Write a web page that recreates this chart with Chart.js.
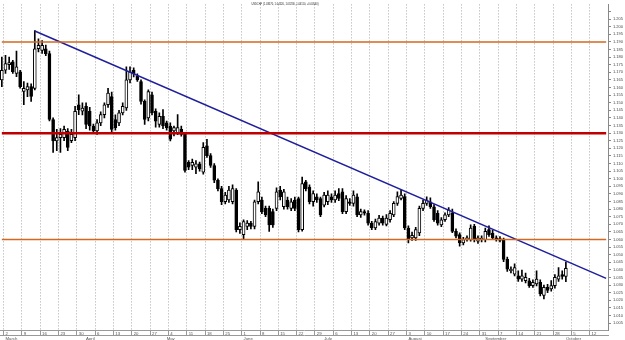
<!DOCTYPE html>
<html>
<head>
<meta charset="utf-8">
<script src="https://cdn.jsdelivr.net/npm/chart.js@4.4.1/dist/chart.umd.min.js"></script>
<style>
html, body { margin: 0; padding: 0; background: #fff; }
#wrap { width: 625px; height: 340px; position: relative; }
</style>
</head>
<body>
<div id="wrap"><canvas id="canvas"></canvas></div>
<script>
const titleText = 'USDCHF (1.03570, 1.04520, 1.03230, 1.04110, +0.00540)';
const firstDay = '2009-02-27';
const lastDay = '2009-10-16';
const monthNames = ['January', 'February', 'March', 'April', 'May', 'June', 'July',
    'August', 'September', 'October', 'November', 'December'];

// daily candles, one per trading day from firstDay
const opens = [
    1.1650, 1.1714, 1.1750, 1.1769, 1.1693, 1.1704, 1.1574, 1.1585, 1.1606, 1.1595,
    1.1855, 1.1844, 1.1855, 1.1823, 1.1390, 1.1249, 1.1271, 1.1271, 1.1314, 1.1250,
    1.1271, 1.1487, 1.1444, 1.1476, 1.1444, 1.1347, 1.1314, 1.1368, 1.1422, 1.1487,
    1.1541, 1.1390, 1.1368, 1.1433, 1.1466, 1.1650, 1.1713, 1.1676, 1.1640, 1.1509,
    1.1401, 1.1552, 1.1444, 1.1357, 1.1411, 1.1368, 1.1347, 1.1314, 1.1303, 1.1325,
    1.1292, 1.1108, 1.1087, 1.1076, 1.1098, 1.1044, 1.1217, 1.1152, 1.1087, 1.0990,
    1.0935, 1.0849, 1.0860, 1.0849, 1.0925, 1.0665, 1.0632, 1.0687, 1.0708, 1.0687,
    1.0849, 1.0860, 1.0805, 1.0805, 1.0784, 1.0805, 1.0925, 1.0816, 1.0860, 1.0805,
    1.0860, 1.0870, 1.0665, 1.0979, 1.0946, 1.0849, 1.0881, 1.0870, 1.0827, 1.0849,
    1.0881, 1.0860, 1.0903, 1.0914, 1.0784, 1.0849, 1.0838, 1.0881, 1.0762, 1.0784,
    1.0773, 1.0708, 1.0676, 1.0708, 1.0741, 1.0700, 1.0730, 1.0762, 1.0838, 1.0870,
    1.0882, 1.0676, 1.0611, 1.0611, 1.0643, 1.0805, 1.0838, 1.0849, 1.0816, 1.0773,
    1.0697, 1.0730, 1.0762, 1.0773, 1.0654, 1.0632, 1.0578, 1.0600, 1.0600, 1.0687,
    1.0589, 1.0600, 1.0600, 1.0665, 1.0643, 1.0611, 1.0606, 1.0600, 1.0470, 1.0395,
    1.0373, 1.0362, 1.0340, 1.0329, 1.0329, 1.0297, 1.0308, 1.0318, 1.0232, 1.0286,
    1.0275, 1.0297, 1.0340, 1.0370, 1.0357
];
const highs = [
    1.1801, 1.1812, 1.1800, 1.1779, 1.1840, 1.1714, 1.1639, 1.1630, 1.1625, 1.1974,
    1.1920, 1.1909, 1.1880, 1.1840, 1.1400, 1.1325, 1.1330, 1.1347, 1.1330, 1.1325,
    1.1476, 1.1552, 1.1500, 1.1500, 1.1470, 1.1360, 1.1390, 1.1440, 1.1500, 1.1595,
    1.1570, 1.1420, 1.1450, 1.1500, 1.1736, 1.1736, 1.1730, 1.1690, 1.1650, 1.1520,
    1.1585, 1.1570, 1.1460, 1.1433, 1.1455, 1.1380, 1.1368, 1.1347, 1.1422, 1.1347,
    1.1300, 1.1120, 1.1130, 1.1119, 1.1110, 1.1238, 1.1260, 1.1165, 1.1100, 1.1000,
    1.0950, 1.0910, 1.0950, 1.0960, 1.0935, 1.0710, 1.0730, 1.0725, 1.0720, 1.0860,
    1.0979, 1.0880, 1.0820, 1.0820, 1.0800, 1.0940, 1.0950, 1.0930, 1.0880, 1.0870,
    1.0880, 1.0880, 1.1011, 1.0990, 1.0960, 1.0920, 1.0900, 1.0880, 1.0910, 1.0920,
    1.0900, 1.0920, 1.0935, 1.0935, 1.0890, 1.0870, 1.0920, 1.0900, 1.0800, 1.0795,
    1.0790, 1.0720, 1.0735, 1.0760, 1.0755, 1.0765, 1.0790, 1.0850, 1.0914, 1.0925,
    1.0900, 1.0690, 1.0650, 1.0680, 1.0820, 1.0860, 1.0881, 1.0875, 1.0830, 1.0790,
    1.0745, 1.0775, 1.0810, 1.0800, 1.0670, 1.0645, 1.0615, 1.0625, 1.0697, 1.0700,
    1.0625, 1.0625, 1.0676, 1.0690, 1.0660, 1.0625, 1.0620, 1.0610, 1.0485, 1.0420,
    1.0440, 1.0395, 1.0400, 1.0380, 1.0345, 1.0335, 1.0394, 1.0335, 1.0300, 1.0305,
    1.0330, 1.0370, 1.0416, 1.0395, 1.0452
];
const lows = [
    1.1606, 1.1693, 1.1720, 1.1693, 1.1671, 1.1596, 1.1487, 1.1540, 1.1509, 1.1585,
    1.1834, 1.1825, 1.1810, 1.1380, 1.1173, 1.1184, 1.1173, 1.1250, 1.1184, 1.1238,
    1.1250, 1.1422, 1.1420, 1.1330, 1.1320, 1.1303, 1.1292, 1.1350, 1.1400, 1.1470,
    1.1310, 1.1320, 1.1350, 1.1420, 1.1450, 1.1630, 1.1670, 1.1640, 1.1490, 1.1357,
    1.1380, 1.1420, 1.1340, 1.1340, 1.1330, 1.1320, 1.1249, 1.1282, 1.1290, 1.1280,
    1.1044, 1.1060, 1.1060, 1.1033, 1.1050, 1.1030, 1.1140, 1.1075, 1.0975, 1.0920,
    1.0830, 1.0835, 1.0845, 1.0835, 1.0650, 1.0640, 1.0600, 1.0665, 1.0670, 1.0670,
    1.0835, 1.0770, 1.0750, 1.0654, 1.0680, 1.0790, 1.0860, 1.0800, 1.0800, 1.0790,
    1.0790, 1.0650, 1.0655, 1.0920, 1.0835, 1.0820, 1.0845, 1.0750, 1.0815, 1.0830,
    1.0845, 1.0845, 1.0855, 1.0770, 1.0770, 1.0825, 1.0820, 1.0750, 1.0745, 1.0760,
    1.0695, 1.0665, 1.0665, 1.0695, 1.0695, 1.0690, 1.0715, 1.0750, 1.0825, 1.0860,
    1.0665, 1.0578, 1.0595, 1.0595, 1.0625, 1.0790, 1.0825, 1.0805, 1.0720, 1.0695,
    1.0685, 1.0720, 1.0750, 1.0645, 1.0610, 1.0557, 1.0565, 1.0590, 1.0590, 1.0585,
    1.0575, 1.0585, 1.0585, 1.0620, 1.0600, 1.0590, 1.0585, 1.0455, 1.0390, 1.0380,
    1.0360, 1.0325, 1.0325, 1.0315, 1.0285, 1.0285, 1.0295, 1.0230, 1.0210, 1.0250,
    1.0260, 1.0280, 1.0325, 1.0340, 1.0323
];
const closes = [
    1.1714, 1.1758, 1.1765, 1.1704, 1.1736, 1.1606, 1.1595, 1.1606, 1.1541, 1.1855,
    1.1877, 1.1877, 1.1823, 1.1390, 1.1249, 1.1271, 1.1293, 1.1325, 1.1206, 1.1293,
    1.1444, 1.1455, 1.1465, 1.1357, 1.1347, 1.1314, 1.1368, 1.1422, 1.1487, 1.1563,
    1.1325, 1.1336, 1.1433, 1.1476, 1.1650, 1.1704, 1.1690, 1.1650, 1.1509, 1.1390,
    1.1574, 1.1433, 1.1379, 1.1411, 1.1347, 1.1336, 1.1260, 1.1336, 1.1336, 1.1292,
    1.1054, 1.1076, 1.1108, 1.1098, 1.1065, 1.1206, 1.1152, 1.1087, 1.0990, 1.0935,
    1.0849, 1.0892, 1.0925, 1.0935, 1.0665, 1.0687, 1.0719, 1.0708, 1.0687, 1.0849,
    1.0914, 1.0784, 1.0762, 1.0697, 1.0697, 1.0914, 1.0881, 1.0914, 1.0816, 1.0849,
    1.0805, 1.0665, 1.0968, 1.0935, 1.0849, 1.0903, 1.0860, 1.0762, 1.0892, 1.0892,
    1.0860, 1.0892, 1.0870, 1.0784, 1.0870, 1.0838, 1.0892, 1.0762, 1.0784, 1.0773,
    1.0708, 1.0676, 1.0719, 1.0741, 1.0708, 1.0741, 1.0773, 1.0838, 1.0882, 1.0892,
    1.0676, 1.0600, 1.0628, 1.0665, 1.0805, 1.0838, 1.0860, 1.0816, 1.0730, 1.0708,
    1.0730, 1.0762, 1.0795, 1.0654, 1.0622, 1.0578, 1.0600, 1.0611, 1.0676, 1.0600,
    1.0611, 1.0610, 1.0654, 1.0632, 1.0611, 1.0600, 1.0594, 1.0470, 1.0405, 1.0405,
    1.0416, 1.0340, 1.0362, 1.0351, 1.0297, 1.0318, 1.0340, 1.0243, 1.0286, 1.0265,
    1.0297, 1.0351, 1.0362, 1.0357, 1.0411
];

// drawn levels
const orangeLevels = [1.190, 1.060];
const redLevel = 1.130;
const trendDates = ['2009-03-12', '2009-10-16'];
const trendValues = [1.1972, 1.0345];
const topLabel = 1.205;

// trading days (weekdays) for the category axis
const days = [];
for (let d = new Date(firstDay + 'T00:00:00Z'); d <= new Date(lastDay + 'T00:00:00Z'); d.setUTCDate(d.getUTCDate() + 1)) {
    const wd = d.getUTCDay();
    if (wd !== 0 && wd !== 6) days.push(d.toISOString().slice(0, 10));
}
const isMonday = i => days[i] !== undefined && new Date(days[i] + 'T00:00:00Z').getUTCDay() === 1;
const monthStart = i => i > 0 && i < days.length && days[i].slice(5, 7) !== days[i - 1].slice(5, 7);

const wicks = opens.map((o, i) => [lows[i], highs[i]]);
const bodies = opens.map((o, i) => [o, closes[i]]);
const bodyColors = opens.map((o, i) => closes[i] >= o ? '#ffffff' : '#000000');

function levelLine(value, color, width) {
    return {
        type: 'line',
        data: [{x: days[0], y: value}, {x: days[days.length - 1], y: value}],
        borderColor: color,
        borderWidth: width,
        pointRadius: 0,
        order: 0
    };
}

const titlePlugin = {
    id: 'topTitle',
    afterDraw(chart) {
        const c = chart.ctx;
        c.save();
        c.font = '2.6px "Liberation Sans", Arial, sans-serif';
        c.fillStyle = '#222';
        c.textAlign = 'center';
        c.textBaseline = 'middle';
        c.fillText(titleText, 285, 4);
        c.restore();
    }
};

Chart.defaults.font.family = '"Liberation Sans", Arial, sans-serif';

var ctx = document.getElementById('canvas').getContext('2d');
var myChart = new Chart(ctx, {
    type: 'bar',
    data: {
        labels: days,
        datasets: [
            levelLine(orangeLevels[0], '#d2691e', 1.5),
            levelLine(orangeLevels[1], '#d2691e', 1.5),
            levelLine(redLevel, '#c00000', 2.5),
            {
                type: 'line',
                data: trendDates.map((d, i) => ({x: d, y: trendValues[i]})),
                borderColor: '#1f1f9c',
                borderWidth: 1.5,
                pointRadius: 0,
                order: 0
            },
            {
                data: bodies,
                backgroundColor: bodyColors,
                borderColor: '#000000',
                borderWidth: 1,
                borderSkipped: false,
                barThickness: 3,
                minBarLength: 1,
                grouped: false,
                order: 1
            },
            {
                data: wicks,
                backgroundColor: '#000000',
                borderWidth: 0,
                barThickness: 1,
                grouped: false,
                order: 2
            }
        ]
    },
    options: {
        responsive: true,
        maintainAspectRatio: false,
        animation: false,
        events: [],
        layout: { padding: 0 },
        plugins: {
            legend: { display: false },
            tooltip: { enabled: false }
        },
        scales: {
            x: {
                type: 'category',
                position: 'bottom',
                weight: 1,
                offset: true,
                grid: {
                    offset: true,
                    color: c => isMonday(c.index) ? '#a8a8a8' : 'rgba(0,0,0,0)',
                    tickColor: c => isMonday(c.index) ? '#999999' : 'rgba(0,0,0,0)',
                    tickLength: 5,
                    tickBorderDash: []
                },
                border: { display: true, color: '#999999', dash: [1, 2] },
                ticks: {
                    autoSkip: false,
                    maxRotation: 0,
                    minRotation: 0,
                    align: 'start',
                    padding: -4,
                    color: '#555',
                    font: { size: 4.3 },
                    callback: (v, i) => isMonday(i) ? String(+days[i].slice(8, 10)) : ''
                },
                afterFit: s => { s.height = 5; }
            },
            x2: {
                type: 'category',
                position: 'bottom',
                weight: 2,
                offset: true,
                grid: { display: false, drawTicks: false },
                border: { display: true, color: '#999999' },
                ticks: {
                    autoSkip: false,
                    maxRotation: 0,
                    minRotation: 0,
                    align: 'start',
                    padding: 1,
                    color: '#555',
                    font: { size: 4.3 },
                    callback: (v, i) => monthStart(i) ? monthNames[+days[i].slice(5, 7) - 1] : ''
                },
                afterFit: s => { s.height = 5; }
            },
            y: {
                position: 'right',
                min: 1.0005,
                max: 1.2147,
                grid: { drawOnChartArea: false, tickLength: 3, color: '#888888' },
                border: { display: true, color: '#888888' },
                ticks: {
                    stepSize: 0.005,
                    includeBounds: false,
                    autoSkip: false,
                    padding: 2,
                    color: '#444',
                    font: { size: 4 },
                    callback: v => v > topLabel + 0.001 ? '' : v.toFixed(3)
                },
                afterFit: s => { s.width = 17; }
            }
        }
    },
    plugins: [titlePlugin]
});
</script>
</body>
</html>
